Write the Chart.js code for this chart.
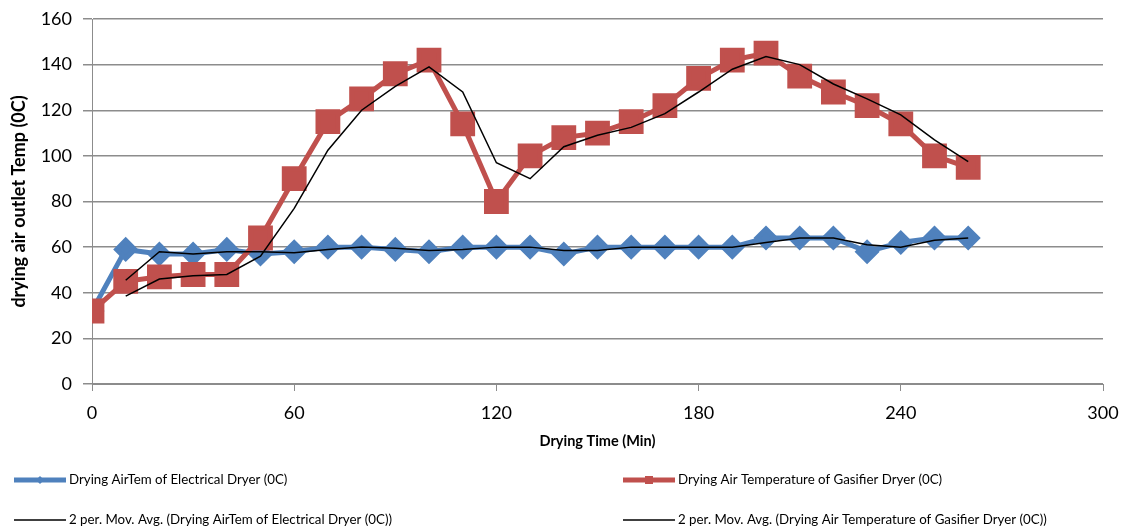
<!DOCTYPE html>
<html>
<head>
<meta charset="utf-8">
<script src="https://cdn.jsdelivr.net/npm/chart.js@4"></script>
<style>
  html, body { margin: 0; padding: 0; background: #fff; }
  #wrap { width: 1123px; height: 529px; position: relative; }
</style>
</head>
<body>
<div id="wrap"><canvas id="dryChart" width="1123" height="529"></canvas></div>
<script>
// drying time (min)
const times = [0, 10, 20, 30, 40, 50, 60, 70, 80, 90, 100, 110, 120, 130, 140, 150, 160, 170, 180, 190, 200, 210, 220, 230, 240, 250, 260];
const electrical = [32, 59, 57, 57, 59, 57, 58, 60, 60, 59, 58, 60, 60, 60, 57, 60, 60, 60, 60, 60, 64, 64, 64, 58, 62, 64, 64];
const gasifier = [32, 45, 47, 48, 48, 64, 90, 115, 125, 136, 142, 114, 80, 100, 108, 110, 115, 122, 134, 142, 145, 135, 128, 122, 114, 100, 95];
// 2 per. moving average lines, from t = 10 on
const maTimes = [10, 20, 30, 40, 50, 60, 70, 80, 90, 100, 110, 120, 130, 140, 150, 160, 170, 180, 190, 200, 210, 220, 230, 240, 250, 260];
const electricalMA = [45.5, 58, 57, 58, 58, 57.5, 59, 60, 59.5, 58.5, 59, 60, 60, 58.5, 58.5, 60, 60, 60, 60, 62, 64, 64, 61, 60, 63, 64];
const gasifierMA = [38.5, 46, 47.5, 48, 56, 77, 102.5, 120, 130.5, 139, 128, 97, 90, 104, 109, 112.5, 118.5, 128, 138, 143.5, 140, 131.5, 125, 118, 107, 97.5];
const xTicks = [0, 60, 120, 180, 240, 300];
const yTicks = [0, 20, 40, 60, 80, 100, 120, 140, 160];

const pts = (xs, ys) => xs.map((x, i) => ({ x: x, y: ys[i] }));

const BLUE = '#4F81BD';
const RED = '#C0504D';
const GRID = '#8c8c8c';
const FONT = 'Lato, "Open Sans", sans-serif';

// legend drawn in two columns below the plot, like the Excel original
const legendPlugin = {
  id: 'xlLegend',
  afterDraw(chart) {
    const ctx = chart.ctx;
    const cols = [14, 623];
    const rows = [480, 520];
    const place = [[0, 0], [1, 0], [0, 1], [1, 1]];
    ctx.save();
    ctx.font = '13.3px ' + FONT;
    ctx.textBaseline = 'middle';
    chart.data.datasets.forEach((ds, i) => {
      const x = cols[place[i][0]];
      const y = rows[place[i][1]];
      ctx.strokeStyle = ds.borderColor;
      ctx.lineWidth = ds.borderWidth;
      ctx.beginPath();
      ctx.moveTo(x, y);
      ctx.lineTo(x + 52, y);
      ctx.stroke();
      if (ds.pointRadius > 0) {
        ctx.fillStyle = ds.pointBackgroundColor;
        const s = ds.pointStyle === 'rect' ? 7 : 4;
        ctx.beginPath();
        if (ds.pointStyle === 'rect') {
          ctx.rect(x + 26 - s / 2 - 0.5, y - s / 2 - 0.5, s + 1, s + 1);
        } else {
          ctx.moveTo(x + 26, y - s);
          ctx.lineTo(x + 26 + s, y);
          ctx.lineTo(x + 26, y + s);
          ctx.lineTo(x + 26 - s, y);
          ctx.closePath();
        }
        ctx.fill();
      }
      ctx.fillStyle = '#000';
      ctx.fillText(ds.label, x + 55, y);
    });
    ctx.restore();
  }
};

new Chart(document.getElementById('dryChart').getContext('2d'), {
  type: 'line',
  data: {
    datasets: [
      {
        label: 'Drying AirTem of Electrical Dryer (0C)',
        data: pts(times, electrical),
        borderColor: BLUE, backgroundColor: BLUE,
        pointBackgroundColor: BLUE, pointBorderColor: BLUE,
        borderWidth: 5, pointStyle: 'rectRot', pointRadius: 9,
        order: 3
      },
      {
        label: 'Drying Air Temperature of Gasifier Dryer (0C)',
        data: pts(times, gasifier),
        borderColor: RED, backgroundColor: RED,
        pointBackgroundColor: RED, pointBorderColor: RED,
        borderWidth: 5, pointStyle: 'rect', pointRadius: 14,
        order: 2
      },
      {
        label: '2 per. Mov. Avg. (Drying AirTem of Electrical Dryer (0C))',
        data: pts(maTimes, electricalMA),
        borderColor: '#000', borderWidth: 1.5, pointRadius: 0,
        order: 1
      },
      {
        label: '2 per. Mov. Avg. (Drying Air Temperature of Gasifier Dryer (0C))',
        data: pts(maTimes, gasifierMA),
        borderColor: '#000', borderWidth: 1.5, pointRadius: 0,
        order: 0
      }
    ]
  },
  options: {
    responsive: false,
    animation: false,
    layout: { padding: { top: 17, right: 20, bottom: 79, left: 0 } },
    plugins: {
      legend: { display: false },
      tooltip: { enabled: false }
    },
    scales: {
      x: {
        type: 'linear',
        min: 0, max: 300,
        afterBuildTicks: (axis) => { axis.ticks = xTicks.map(v => ({ value: v })); },
        afterFit: (axis) => { axis.height = 66; axis.paddingRight = 0; axis.paddingLeft = 0; },
        grid: { drawOnChartArea: false, color: GRID, tickLength: 7, tickColor: GRID },
        border: { color: GRID, width: 1 },
        ticks: { color: '#000', font: { family: FONT, size: 18 }, padding: 11, maxRotation: 0 },
        title: { display: true, text: 'Drying Time (Min)', color: '#000', font: { family: FONT, size: 14.5, weight: 'bold' }, padding: { top: 0, bottom: 0 } }
      },
      y: {
        min: 0, max: 160,
        afterBuildTicks: (axis) => { axis.ticks = yTicks.map(v => ({ value: v })); },
        afterFit: (axis) => { axis.width = 92; axis.paddingTop = 0; axis.paddingBottom = 0; },
        grid: { color: GRID, lineWidth: 1.5, tickLength: 9, tickColor: GRID },
        border: { color: GRID, width: 1 },
        ticks: { color: '#000', font: { family: FONT, size: 18 }, padding: 11 },
        title: { display: true, text: 'drying air outlet Temp (0C)', color: '#000', font: { family: FONT, size: 18, weight: 'bold' }, padding: { top: 8, bottom: 0 } }
      }
    }
  },
  plugins: [legendPlugin]
});
</script>
</body>
</html>
